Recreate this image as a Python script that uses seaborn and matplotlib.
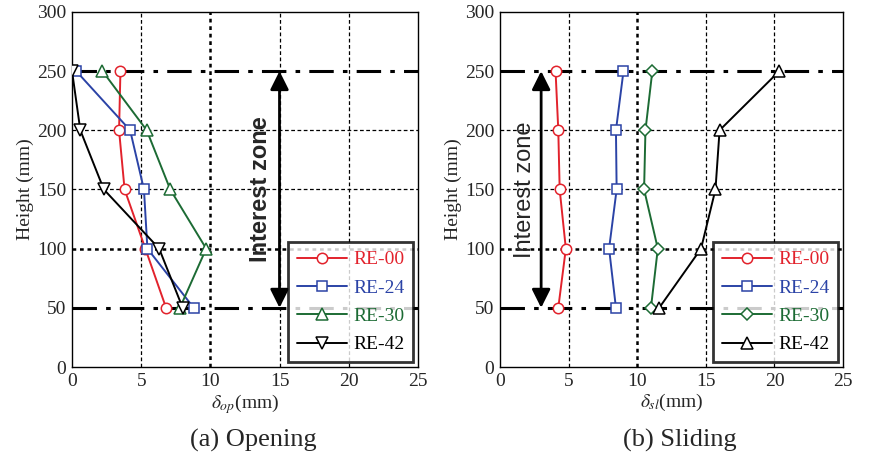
import matplotlib
matplotlib.use("Agg")
import matplotlib.pyplot as plt
import seaborn as sns
import pandas as pd

# DATA ===========================================================================================================

height = [250, 200, 150, 100, 50]
specimens = ["RE-00", "RE-24", "RE-30", "RE-42"]

opening = {
    "RE-00": [3.5, 3.4, 3.8, 5.3, 6.8],
    "RE-24": [0.3, 4.2, 5.2, 5.45, 8.8],
    "RE-30": [2.2, 5.4, 7.1, 9.7, 7.8],
    "RE-42": [0.0, 0.6, 2.3, 6.3, 8.0],
}
sliding = {
    "RE-00": [4.05, 4.25, 4.35, 4.8, 4.25],
    "RE-24": [9.0, 8.45, 8.5, 7.95, 8.45],
    "RE-30": [11.1, 10.6, 10.5, 11.5, 11.0],
    "RE-42": [20.35, 16.0, 15.7, 14.65, 11.6],
}

colors = {"RE-00": "#e2222c", "RE-24": "#2b43a6", "RE-30": "#1c6b34", "RE-42": "#000000"}
markers_op = {"RE-00": "o", "RE-24": "s", "RE-30": "^", "RE-42": "v"}
markers_sl = {"RE-00": "o", "RE-24": "s", "RE-30": "D", "RE-42": "^"}
msize = {"o": 7.5, "s": 7.5, "^": 8, "v": 8, "D": 6}

# PLOTTER ========================================================================================================

sns.set_style("white")
plt.rcParams["font.family"] = ["Liberation Serif", "DejaVu Serif"]
plt.rcParams["mathtext.fontset"] = "stix"

fig = plt.figure(figsize=(8.71, 4.63), dpi=100)
ax_op = fig.add_axes([0.0827, 0.2073, 0.397, 0.767])
ax_sl = fig.add_axes([0.574, 0.2073, 0.394, 0.767])


def draw_panel(ax, data, markers, xlabel, caption, arrow_x, text_x, bold):
    # reference lines
    for yv in [50, 250]:
        ax.axhline(yv, color="black", lw=2.2, ls=(0, (8, 3, 1.5, 3)), zorder=1)
    ax.axhline(100, color="black", lw=1.8, ls=(0, (1.5, 1.5)), zorder=1)
    for yv in [150, 200]:
        ax.axhline(yv, color="black", lw=0.9, ls=(0, (3, 2)), zorder=1)
    for xv in [5, 15, 20]:
        ax.axvline(xv, color="black", lw=0.9, ls=(0, (3, 2)), zorder=1)
    ax.axvline(10, color="black", lw=1.8, ls=(0, (1.5, 1.5)), zorder=1)

    for name in specimens:
        df = pd.DataFrame({"disp": data[name], "height": height})
        m = markers[name]
        sns.lineplot(data=df, x="disp", y="height", sort=False, estimator=None, ax=ax,
                     color=colors[name], lw=1.4, marker=m, markersize=msize[m],
                     markerfacecolor="white", markeredgecolor=colors[name], markeredgewidth=1.1,
                     label=name, zorder=3)

    ax.annotate("", xy=(arrow_x, 50), xytext=(arrow_x, 250),
                arrowprops=dict(arrowstyle="<|-|>", color="black", lw=2, mutation_scale=28,
                                shrinkA=0, shrinkB=0), zorder=4)
    ax.text(text_x, 150, "Interest zone", rotation=90, ha="center", va="center", fontsize=17,
            fontweight="bold" if bold else "normal",
            family=["Liberation Sans", "DejaVu Sans"], zorder=4)

    ax.set_xlim(0, 25)
    ax.set_ylim(0, 300)
    ax.set_xticks([0, 5, 10, 15, 20, 25])
    ax.set_yticks([0, 50, 100, 150, 200, 250, 300])
    ax.tick_params(labelsize=14, direction="in", length=3, pad=4)
    for sp in ax.spines.values():
        sp.set_color("black")
        sp.set_linewidth(1.0)
    ax.set_xlabel(xlabel, fontsize=14, labelpad=2)
    ax.set_ylabel("Height (mm)", fontsize=14, labelpad=2)
    ax.text(0.525, -0.175, caption, transform=ax.transAxes, ha="center", va="top", fontsize=19)

    leg = ax.legend(loc="lower right", fontsize=14, frameon=True, fancybox=False, handlelength=2.6,
                    borderaxespad=0.25, labelspacing=0.55, handletextpad=0.3, borderpad=0.45,
                    labelcolor="linecolor")
    leg.get_frame().set_edgecolor("black")
    leg.get_frame().set_linewidth(2)
    leg.set_zorder(5)


draw_panel(ax_op, opening, markers_op, r"$\delta_{op}$(mm)", "(a) Opening", 15, 13.6, True)
draw_panel(ax_sl, sliding, markers_sl, r"$\delta_{sl}$(mm)", "(b) Sliding", 3, 1.8, False)

plt.savefig("out.png", dpi=100)
